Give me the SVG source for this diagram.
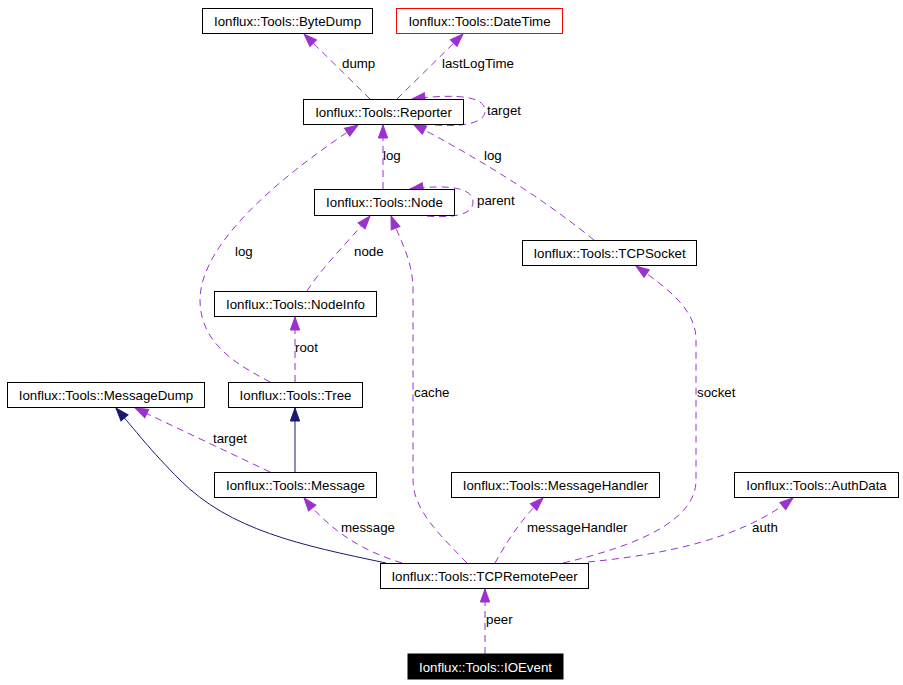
<svg xmlns="http://www.w3.org/2000/svg" width="903" height="685" viewBox="0 0 903 685">
<style>
  text { font-family: "Liberation Sans", Arial, sans-serif; font-size: 13.3px; fill: #000; }
  .node rect { fill: #fff; stroke: #000; stroke-width: 1; }
  .node text { text-anchor: middle; }
  .dep { fill: none; stroke: #9a32cd; stroke-width: 1; stroke-dasharray: 7,5; marker-end: url(#ap); }
  .inh { fill: none; stroke: #191970; stroke-width: 1; marker-end: url(#ab); }
</style>
<defs>
  <marker id="ap" markerUnits="userSpaceOnUse" markerWidth="14" markerHeight="10" refX="13" refY="4.65" orient="auto" overflow="visible">
    <path d="M0,0 L13,4.65 L0,9.3 z" fill="#9a32cd" stroke="#9a32cd" stroke-width="1" stroke-linejoin="miter"/>
  </marker>
  <marker id="ab" markerUnits="userSpaceOnUse" markerWidth="14" markerHeight="10" refX="13" refY="4.65" orient="auto" overflow="visible">
    <path d="M0,0 L13,4.65 L0,9.3 z" fill="#191970" stroke="#191970" stroke-width="1"/>
  </marker>
</defs>
<rect x="0" y="0" width="903" height="685" fill="#fff"/>

<g id="connectors">
  <path class="dep" d="M370,99 L304,34"/>
  <text x="342" y="68">dump</text>
  <path class="dep" d="M397,99 L463,34"/>
  <text x="442" y="68">lastLogTime</text>
  <path class="dep" d="M423,124 C460,128 485,124 485,111 C485,97 460,93 412,99"/>
  <text x="487" y="115">target</text>
  <path class="dep" d="M383,189 L383,125"/>
  <text x="383" y="160">log</text>
  <path class="dep" d="M594,240 Q520,180 413,124"/>
  <text x="484" y="160">log</text>
  <path class="dep" d="M415,215 C450,219 473,216 473,202 C473,188 450,184 410,189"/>
  <text x="477" y="205">parent</text>
  <path class="dep" d="M270,382 C240,366 200,345 200,300 C200,240 290,170 358,125"/>
  <text x="235" y="256">log</text>
  <path class="dep" d="M307,291 C320,270 345,245 370,216"/>
  <text x="354" y="256">node</text>
  <path class="dep" d="M467,563 C440,535 413,510 413,480 L413,290 C413,260 400,240 391,216"/>
  <text x="414" y="397">cache</text>
  <path class="dep" d="M295,382 L295,317"/>
  <text x="295" y="352">root</text>
  <path class="inh" d="M295,472 L295,408"/>
  <path class="dep" d="M270,472 L135,408"/>
  <text x="213" y="443">target</text>
  <path class="inh" d="M386,563 C300,545 230,530 180,480 C150,450 135,430 116,408"/>
  <path class="dep" d="M402,563 C360,550 330,530 304,498"/>
  <text x="341" y="532">message</text>
  <path class="dep" d="M495,563 C505,545 520,520 543,498"/>
  <text x="527" y="532">messageHandler</text>
  <path class="dep" d="M563,563 C640,545 696,520 696,480 L696,340 C696,310 670,290 636,266"/>
  <text x="697" y="397">socket</text>
  <path class="dep" d="M588,562 C660,555 740,540 793,498"/>
  <text x="752" y="532">auth</text>
  <path class="dep" d="M485,654 L485,589"/>
  <text x="486" y="624">peer</text>
</g>

<g id="ByteDump" class="node"><rect x="202.5" y="8.5" width="170" height="25"/><text x="287.5" y="25.5">Ionflux::Tools::ByteDump</text></g>
<g id="DateTime" class="node"><rect x="396.5" y="8.5" width="166" height="25" style="stroke:#ff0000"/><text x="479.5" y="25.5">Ionflux::Tools::DateTime</text></g>
<g id="Reporter" class="node"><rect x="303.5" y="99.5" width="160" height="25"/><text x="383.5" y="116.5">Ionflux::Tools::Reporter</text></g>
<g id="Node" class="node"><rect x="314.5" y="189.5" width="140" height="26"/><text x="384.5" y="207">Ionflux::Tools::Node</text></g>
<g id="TCPSocket" class="node"><rect x="522.5" y="240.5" width="174" height="25"/><text x="609.5" y="257.5">Ionflux::Tools::TCPSocket</text></g>
<g id="NodeInfo" class="node"><rect x="214.5" y="291.5" width="162" height="25"/><text x="295.5" y="308.5">Ionflux::Tools::NodeInfo</text></g>
<g id="MessageDump" class="node"><rect x="7.5" y="382.5" width="197" height="25"/><text x="106" y="399.5">Ionflux::Tools::MessageDump</text></g>
<g id="Tree" class="node"><rect x="228.5" y="382.5" width="134" height="25"/><text x="295.5" y="399.5">Ionflux::Tools::Tree</text></g>
<g id="Message" class="node"><rect x="214.5" y="472.5" width="162" height="25"/><text x="295.5" y="489.5">Ionflux::Tools::Message</text></g>
<g id="MessageHandler" class="node"><rect x="451.5" y="472.5" width="208" height="25"/><text x="555.5" y="489.5">Ionflux::Tools::MessageHandler</text></g>
<g id="AuthData" class="node"><rect x="734.5" y="472.5" width="164" height="25"/><text x="816.5" y="489.5">Ionflux::Tools::AuthData</text></g>
<g id="TCPRemotePeer" class="node"><rect x="380.5" y="563.5" width="208" height="25"/><text x="484.5" y="580.5">Ionflux::Tools::TCPRemotePeer</text></g>
<g id="IOEvent" class="node"><rect x="408" y="654" width="155" height="25" style="fill:#000;stroke:#000"/><text x="485.5" y="671.5" style="fill:#fff">Ionflux::Tools::IOEvent</text></g>
</svg>
